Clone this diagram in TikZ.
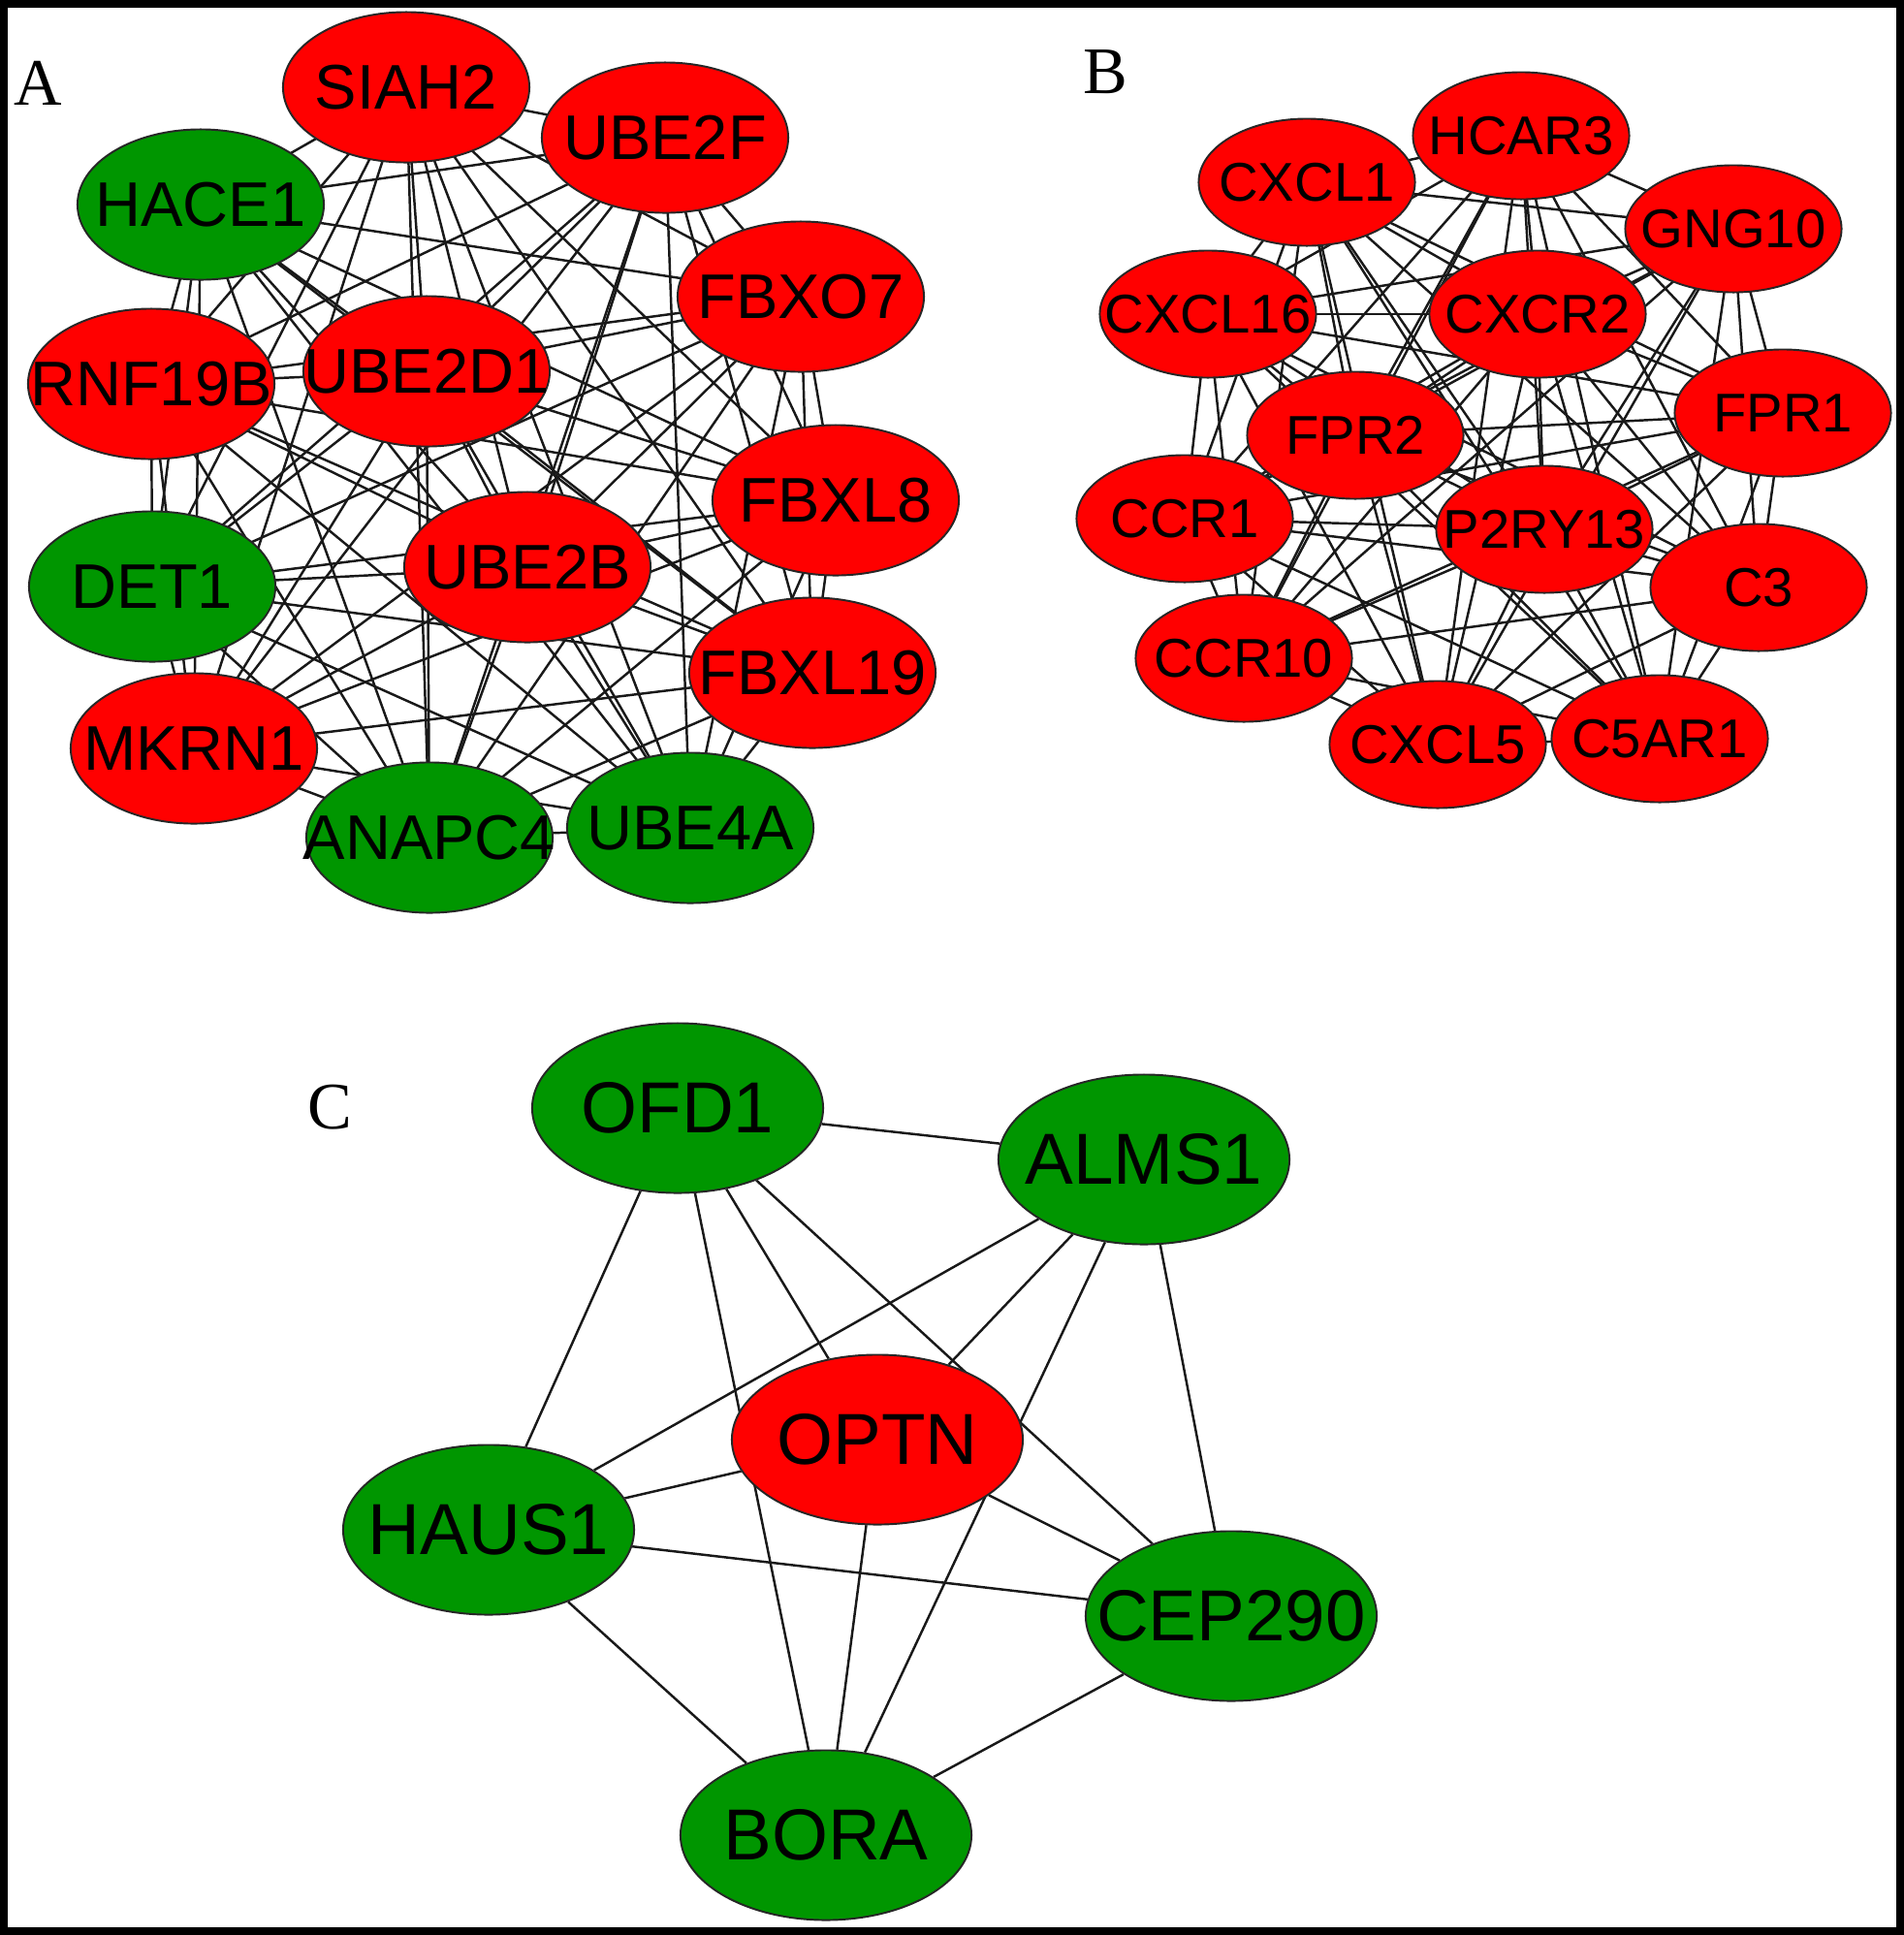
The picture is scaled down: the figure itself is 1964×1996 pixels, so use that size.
\documentclass[tikz,border=0pt]{standalone}
\usepackage{fontspec}
\setmainfont{Liberation Sans}
\newfontfamily\serifpanel{Liberation Serif}
\usetikzlibrary{shapes.geometric}
\definecolor{nodered}{RGB}{255,0,0}
\definecolor{nodegreen}{RGB}{0,150,0}
\pgfdeclarelayer{edges}
\pgfsetlayers{edges,main}
\tikzset{
 gene/.style={ellipse, draw=black!85, line width=0.55pt, inner sep=0pt},
 ga/.style={gene, minimum width=2.54cm, minimum height=1.55cm, font=\fontsize{18.5}{22}\selectfont},
 gb/.style={gene, minimum width=2.23cm, minimum height=1.31cm, font=\fontsize{16}{19}\selectfont},
 gc/.style={gene, minimum width=3.0cm, minimum height=1.75cm, font=\fontsize{21.2}{25}\selectfont},
 upreg/.style={fill=nodered},
 downreg/.style={fill=nodegreen},
 edgeline/.style={line width=0.7pt, black!90},
 panellabel/.style={font=\serifpanel\fontsize{19.5}{22}\selectfont, inner sep=0pt},
}
\newcommand{\gl}[1]{\makebox[0pt]{#1}}
\begin{document}
\begin{tikzpicture}[x=0.01cm, y=-0.01cm]
\useasboundingbox (0,0) rectangle (1964,1996);
\draw[line width=0.08cm] (4,4) rectangle (1960,1992);

% panel labels
\node[panellabel] (labA) at (39,86) {A};
\node[panellabel] (labB) at (1140,74) {B};
\node[panellabel] (labC) at (340,1142) {C};

% Panel A
\node[ga,upreg]   (SIAH2)  at (419,90)  {\gl{SIAH2}};
\node[ga,upreg]   (UBE2F)  at (686,142) {\gl{UBE2F}};
\node[ga,downreg] (HACE1)  at (207,211) {\gl{HACE1}};
\node[ga,upreg]   (FBXO7)  at (826,306) {\gl{FBXO7}};
\node[ga,upreg]   (RNF19B) at (156,396) {\gl{RNF19B}};
\node[ga,upreg]   (UBE2D1) at (440,383) {\gl{UBE2D1}};
\node[ga,upreg]   (FBXL8)  at (862,516) {\gl{FBXL8}};
\node[ga,upreg]   (UBE2B)  at (544,585) {\gl{UBE2B}};
\node[ga,downreg] (DET1)   at (157,605) {\gl{DET1}};
\node[ga,upreg]   (FBXL19) at (838,694) {\gl{FBXL19}};
\node[ga,upreg]   (MKRN1)  at (200,772) {\gl{MKRN1}};
\node[ga,downreg] (ANAPC4) at (443,864) {\gl{ANAPC4}};
\node[ga,downreg] (UBE4A)  at (712,854) {\gl{UBE4A}};

% Panel B
\node[gb,upreg] (CXCL1)  at (1348,188) {\gl{CXCL1}};
\node[gb,upreg] (HCAR3)  at (1569,140) {\gl{HCAR3}};
\node[gb,upreg] (CXCL16) at (1246,324) {\gl{CXCL16}};
\node[gb,upreg] (CXCR2)  at (1586,324) {\gl{CXCR2}};
\node[gb,upreg] (GNG10)  at (1788,236) {\gl{GNG10}};
\node[gb,upreg] (FPR1)   at (1839,426) {\gl{FPR1}};
\node[gb,upreg] (FPR2)   at (1398,449) {\gl{FPR2}};
\node[gb,upreg] (CCR1)   at (1222,535) {\gl{CCR1}};
\node[gb,upreg] (P2RY13) at (1593,546) {\gl{P2RY13}};
\node[gb,upreg] (C3)     at (1814,606) {\gl{C3}};
\node[gb,upreg] (CCR10)  at (1283,679) {\gl{CCR10}};
\node[gb,upreg] (CXCL5)  at (1483,768) {\gl{CXCL5}};
\node[gb,upreg] (C5AR1)  at (1712,762) {\gl{C5AR1}};

% Panel C
\node[gc,downreg] (OFD1)   at (699,1143)  {\gl{OFD1}};
\node[gc,downreg] (ALMS1)  at (1180,1196) {\gl{ALMS1}};
\node[gc,upreg]   (OPTN)   at (905,1485)  {\gl{OPTN}};
\node[gc,downreg] (HAUS1)  at (504,1578)  {\gl{HAUS1}};
\node[gc,downreg] (CEP290) at (1270,1667) {\gl{CEP290}};
\node[gc,downreg] (BORA)   at (852,1893)  {\gl{BORA}};

\begin{pgfonlayer}{edges}
\foreach \a [count=\i] in {SIAH2,UBE2F,HACE1,FBXO7,RNF19B,UBE2D1,FBXL8,UBE2B,DET1,FBXL19,MKRN1,ANAPC4,UBE4A}{
  \foreach \b [count=\j] in {SIAH2,UBE2F,HACE1,FBXO7,RNF19B,UBE2D1,FBXL8,UBE2B,DET1,FBXL19,MKRN1,ANAPC4,UBE4A}{
    \ifnum\i<\j \draw[edgeline] (\a.center) -- (\b.center); \fi
  }
}
\foreach \a [count=\i] in {CXCL1,HCAR3,CXCL16,CXCR2,GNG10,FPR1,FPR2,CCR1,P2RY13,C3,CCR10,CXCL5,C5AR1}{
  \foreach \b [count=\j] in {CXCL1,HCAR3,CXCL16,CXCR2,GNG10,FPR1,FPR2,CCR1,P2RY13,C3,CCR10,CXCL5,C5AR1}{
    \ifnum\i<\j \draw[edgeline] (\a.center) -- (\b.center); \fi
  }
}
\foreach \a [count=\i] in {OFD1,ALMS1,OPTN,HAUS1,CEP290,BORA}{
  \foreach \b [count=\j] in {OFD1,ALMS1,OPTN,HAUS1,CEP290,BORA}{
    \ifnum\i<\j \draw[edgeline] (\a) -- (\b); \fi
  }
}
\end{pgfonlayer}
\end{tikzpicture}
\end{document}
